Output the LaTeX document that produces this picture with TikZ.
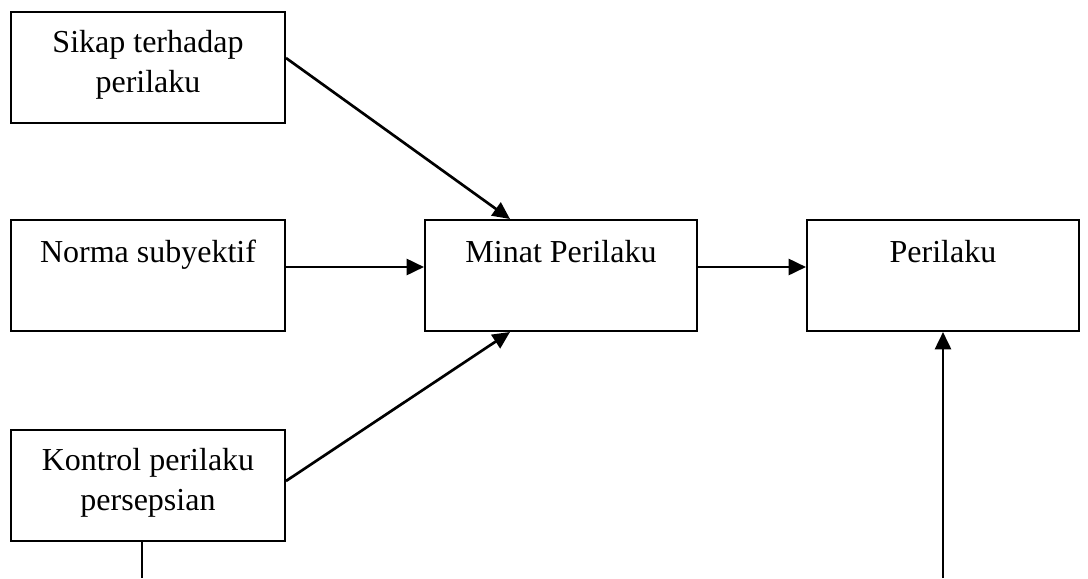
\documentclass[tikz,border=0pt]{standalone}
\usepackage{fontspec}
\setmainfont{Liberation Serif}
\usetikzlibrary{arrows.meta,calc}
\begin{document}
\begin{tikzpicture}[x=0.75pt,y=-0.75pt,
  box/.style={draw=black,line width=1.5pt,minimum width=274*0.75pt,minimum height=111*0.75pt,inner sep=0pt},
  rbox/.style={box,minimum width=272*0.75pt},
  lbl/.style={font=\fontsize{24}{30}\selectfont,align=center,inner sep=0pt},
  conn/.style={line width=2pt,-{Triangle[length=13pt,width=12pt]}},
  plain/.style={line width=2pt}]
\useasboundingbox (0,0) rectangle (1088,578);
% boxes
\node[box] (s) at (148,67.5) {};
\node[box] (n) at (148,275.5) {};
\node[box] (k) at (148,485.5) {};
\node[rbox] (m) at (561,275.5) {};
\node[rbox] (p) at (943,275.5) {};
% texts
\node[lbl,anchor=north] (st) at (148,30) {Sikap terhadap\\perilaku};
\node[lbl,anchor=base] (nt) at (148,262) {Norma subyektif};
\node[lbl,anchor=north] (kt) at (148,448) {Kontrol perilaku\\persepsian};
\node[lbl,anchor=base] (mt) at (561,262) {Minat Perilaku};
\node[lbl,anchor=base] (pt) at (943,262) {Perilaku};
% connectors
\coordinate (kend) at (142,578);
\coordinate (pstart) at (943,578);
\draw[conn] (s.east |- 0,58) -- (m.north -| 510,0);
\draw[conn] (k.east |- 0,481) -- (m.south -| 510,0);
\draw[conn] (n.east |- 0,267) -- (m.west |- 0,267);
\draw[conn] (m.east |- 0,267) -- (p.west |- 0,267);
\draw[plain] (k.south -| 142,0) -- (kend);
\draw[conn] (pstart) -- (p.south);
\end{tikzpicture}
\end{document}
